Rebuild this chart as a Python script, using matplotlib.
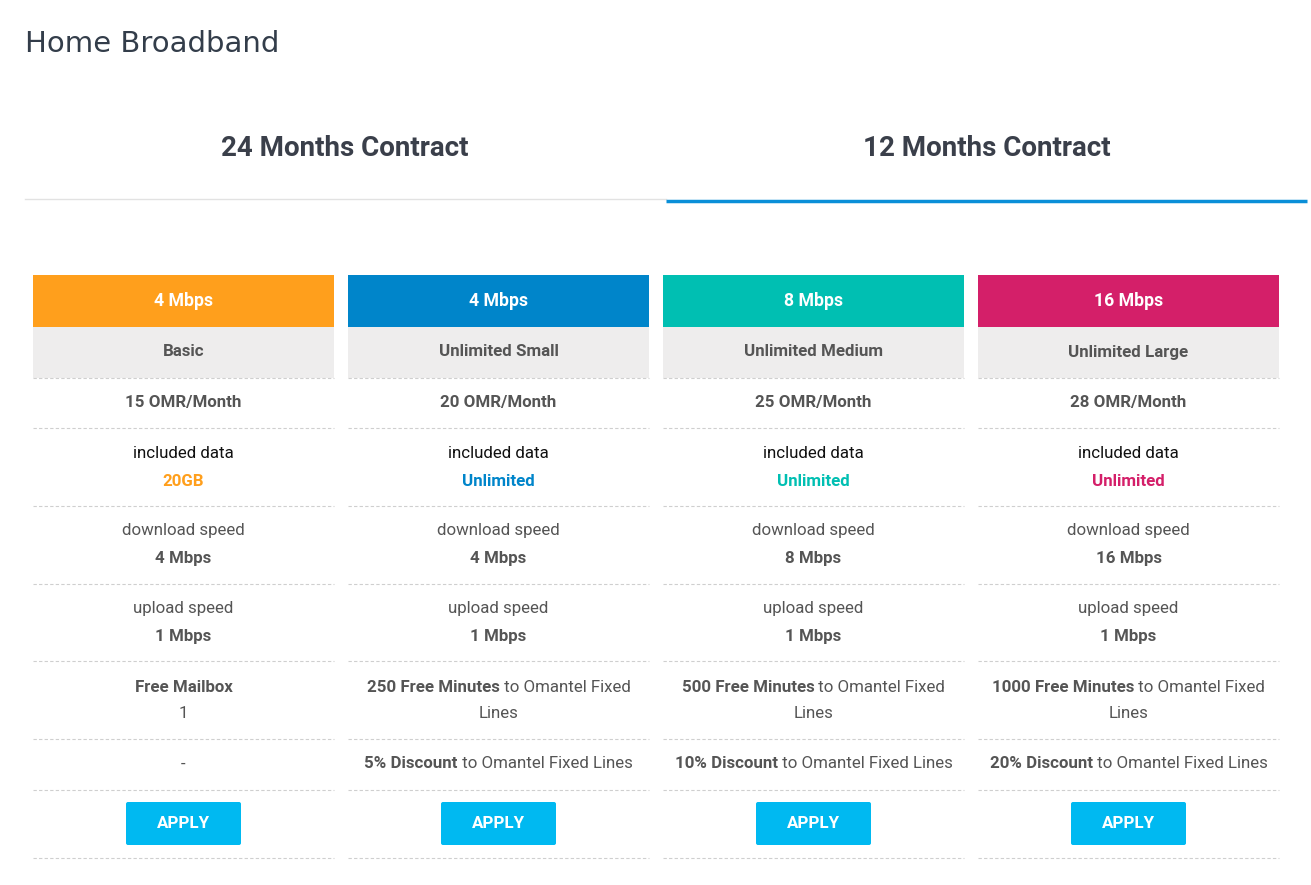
import matplotlib.pyplot as plt
from matplotlib.patches import Rectangle, FancyBboxPatch

speeds = ["4 Mbps", "4 Mbps", "8 Mbps", "16 Mbps"]
names = ["Basic", "Unlimited Small", "Unlimited Medium", "Unlimited Large"]
prices = ["15 OMR/Month", "20 OMR/Month", "25 OMR/Month", "28 OMR/Month"]
data_amt = ["20GB", "Unlimited", "Unlimited", "Unlimited"]
down = ["4 Mbps", "4 Mbps", "8 Mbps", "16 Mbps"]
up = ["1 Mbps", "1 Mbps", "1 Mbps", "1 Mbps"]
extra1 = [[("Free Mailbox", True)],
          [("250 Free Minutes", True), (" to Omantel Fixed", False)],
          [("500 Free Minutes", True), (" to Omantel Fixed", False)],
          [("1000 Free Minutes", True), (" to Omantel Fixed", False)]]
extra1b = ["1", "Lines", "Lines", "Lines"]
extra2 = [[("-", False)],
          [("5% Discount", True), (" to Omantel Fixed Lines", False)],
          [("10% Discount", True), (" to Omantel Fixed Lines", False)],
          [("20% Discount", True), (" to Omantel Fixed Lines", False)]]
colors = ["#FF9F1C", "#0085CA", "#00BFB2", "#D41F69"]

W, H = 1311, 885
fig = plt.figure(figsize=(W / 100, H / 100), dpi=100)
ax = fig.add_axes([0, 0, 1, 1])
ax.set_xlim(0, W)
ax.set_ylim(H, 0)
ax.axis("off")
FONT = "Roboto"
GRAY = "#555555"
FS = 12.2

ax.text(25, 44, "Home Broadband", fontsize=21, color="#333d4a", family="DejaVu Sans",
        va="center", ha="left")
ax.text(345, 149, "24 Months Contract", fontsize=20, fontweight="bold", color="#3a3f4a",
        family=FONT, va="center", ha="center")
ax.text(987, 149, "12 Months Contract", fontsize=20, fontweight="bold", color="#3a3f4a",
        family=FONT, va="center", ha="center")
ax.plot([25, 666], [199, 199], color="#e2e2e2", lw=1)
ax.plot([666, 1307], [201, 201], color="#0a8fd8", lw=2.5, solid_capstyle="butt")

renderer = fig.canvas.get_renderer()


def mixed(cx, y, parts, color=GRAY):
    # measure segments and center them as one line
    widths = []
    for s, b in parts:
        t = ax.text(0, 0, s.replace(" ", "\u00a0"), fontsize=FS, family=FONT,
                    fontweight="bold" if b else "normal")
        widths.append(t.get_window_extent(renderer).width)
        t.remove()
    x = cx - sum(widths) / 2
    for (s, b), w in zip(parts, widths):
        ax.text(x, y, s.replace(" ", "\u00a0"), fontsize=FS, family=FONT, color=color,
                fontweight="bold" if b else "normal", va="center", ha="left")
        x += w


lines = [378, 428, 506, 584, 661, 739, 790, 858]
for i in range(4):
    x0 = 33 + 315 * i
    cx = x0 + 150.5
    ax.add_patch(Rectangle((x0, 275), 301, 52, color=colors[i], lw=0))
    ax.add_patch(Rectangle((x0, 327), 301, 51, color="#eeeded", lw=0))
    for y in lines:
        ax.plot([x0, x0 + 301], [y, y], color="#cfcfcf", lw=0.8, ls=(0, (3, 2)))
    ax.text(cx, 301, speeds[i], fontsize=FS + 0.5, fontweight="bold", color="white",
            family=FONT, ha="center", va="center")
    ax.text(cx, 352, names[i], fontsize=FS, fontweight="bold", color=GRAY,
            family=FONT, ha="center", va="center")
    ax.text(cx, 403, prices[i], fontsize=FS, fontweight="bold", color=GRAY,
            family=FONT, ha="center", va="center")
    ax.text(cx, 454, "included data", fontsize=FS, color="#111111",
            family=FONT, ha="center", va="center")
    ax.text(cx, 481, data_amt[i], fontsize=FS, fontweight="bold", color=colors[i],
            family=FONT, ha="center", va="center")
    ax.text(cx, 531, "download speed", fontsize=FS, color=GRAY,
            family=FONT, ha="center", va="center")
    ax.text(cx, 558, down[i], fontsize=FS, fontweight="bold", color=GRAY,
            family=FONT, ha="center", va="center")
    ax.text(cx, 609, "upload speed", fontsize=FS, color=GRAY,
            family=FONT, ha="center", va="center")
    ax.text(cx, 636, up[i], fontsize=FS, fontweight="bold", color=GRAY,
            family=FONT, ha="center", va="center")
    mixed(cx, 687, extra1[i])
    ax.text(cx, 714, extra1b[i], fontsize=FS, color=GRAY,
            family=FONT, ha="center", va="center")
    mixed(cx, 764, extra2[i])
    ax.add_patch(FancyBboxPatch((cx - 57.5 + 2, 802 + 2), 115 - 4, 43 - 4,
                                boxstyle="round,pad=2", color="#00B9F1", lw=0))
    ax.text(cx, 824, "APPLY", fontsize=FS, fontweight="bold", color="white",
            family=FONT, ha="center", va="center")

fig.savefig("out.png", dpi=100, facecolor="white")
